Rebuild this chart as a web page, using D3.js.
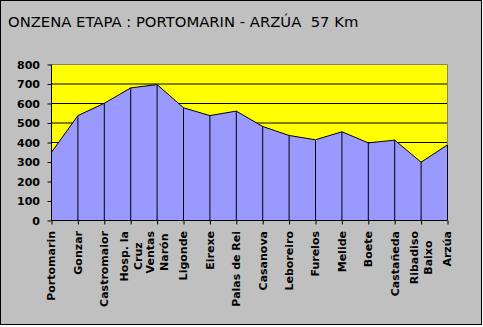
<!DOCTYPE html>
<html>
<head>
<meta charset="utf-8">
<script src="https://cdn.jsdelivr.net/npm/d3@7/dist/d3.min.js"></script>
<style>
  html, body { margin: 0; padding: 0; background: #ffffff; }
  svg { display: block; }
  text { font-family: "DejaVu Sans", Verdana, sans-serif; }
</style>
</head>
<body>
<svg id="chart" width="483" height="327"></svg>
<script>
// Stage profile: altitude (m) at each waypoint
const stages = ["Portomarin", "Gonzar", "Castromaior", "Hosp. la|Cruz", "Ventas|Narón",
  "Ligonde", "Eirexe", "Palas de Rei", "Casanova", "Leboreiro", "Furelos", "Melide",
  "Boete", "Castañeda", "Ribadiso|Baixo", "Arzúa"];
const altitudes = [350, 538, 601, 680, 697, 578, 538, 561, 482, 436, 414, 455, 398, 412, 299, 388];
const yTicks = [0, 100, 200, 300, 400, 500, 600, 700, 800];
const title = "ONZENA ETAPA : PORTOMARIN - ARZÚA  57 Km";

const svg = d3.select("#chart");

// Frame
svg.append("rect")
  .attr("x", 0.5).attr("y", 0.5).attr("width", 481).attr("height", 324)
  .attr("fill", "#c0c0c0").attr("stroke", "#000");

svg.append("text")
  .attr("x", 8).attr("y", 27)
  .style("white-space", "pre")
  .attr("font-size", "14.8px")
  .attr("fill", "#000")
  .text(title);

const x = d3.scalePoint().domain(stages).range([51.5, 447.5]);
const y = d3.scaleLinear().domain([0, 800]).range([220.5, 64.5]);

const plotLeft = x.range()[0], plotRight = x.range()[1];
const plotTop = y(800), plotBottom = y(0);

// Plot background
svg.append("rect")
  .attr("x", plotLeft).attr("y", plotTop)
  .attr("width", plotRight - plotLeft).attr("height", plotBottom - plotTop)
  .attr("fill", "#ffff00");

// Horizontal gridlines
svg.append("g").selectAll("line")
  .data(yTicks.filter(d => d > 0 && d < 800))
  .join("line")
  .attr("x1", plotLeft).attr("x2", plotRight)
  .attr("y1", d => y(d)).attr("y2", d => y(d))
  .attr("stroke", "#000").attr("stroke-width", 1);

const pts = stages.map((s, i) => ({ s, v: altitudes[i] }));

// Elevation area
svg.append("path")
  .datum(pts)
  .attr("d", d3.area().x(d => x(d.s)).y0(plotBottom).y1(d => y(d.v)))
  .attr("fill", "#9999ff");

svg.append("path")
  .datum(pts)
  .attr("d", d3.line().x(d => x(d.s)).y(d => y(d.v)))
  .attr("fill", "none").attr("stroke", "#000").attr("stroke-width", 1);

// Plot border (top and right)
svg.append("path")
  .attr("d", `M${plotLeft},${plotTop}H${plotRight}V${plotBottom}`)
  .attr("fill", "none").attr("stroke", "#808080");

// Drop lines
svg.append("g").selectAll("line")
  .data(pts)
  .join("line")
  .attr("x1", d => x(d.s)).attr("x2", d => x(d.s))
  .attr("y1", d => y(d.v)).attr("y2", plotBottom)
  .attr("stroke", "#000");

// Y axis
const yAxis = svg.append("g")
  .attr("transform", `translate(${plotLeft},0)`)
  .call(d3.axisLeft(y).tickValues(yTicks).tickSize(4).tickPadding(8));
yAxis.select(".domain").attr("stroke", "#000").attr("d", `M0,${plotTop}V${plotBottom}`);
yAxis.selectAll(".tick line").attr("stroke", "#000");
yAxis.selectAll("text")
  .attr("font-family", "DejaVu Sans, sans-serif")
  .attr("font-size", "11px").attr("font-weight", "bold").attr("fill", "#000")
  .attr("x", -11.5).attr("dy", "0.36em");

// X axis
const xAxis = svg.append("g")
  .attr("transform", `translate(0,${plotBottom})`)
  .call(d3.axisBottom(x).tickSize(4).tickFormat(""));
xAxis.select(".domain").attr("stroke", "#000").attr("d", `M${plotLeft},0H${plotRight}`);
xAxis.selectAll(".tick line").attr("stroke", "#000");
xAxis.selectAll(".tick text").remove();

// Rotated category labels, wrapped lines centred on each tick
const labelTop = 231;
const lineGap = 14;
const labels = svg.append("g");
stages.forEach(s => {
  const lines = s.split("|");
  const g = labels.append("g");
  const texts = lines.map(ln => g.append("text")
    .attr("font-size", "11px").attr("font-weight", "bold").attr("fill", "#000")
    .attr("text-anchor", "middle")
    .attr("dy", "0.36em")
    .text(ln));
  const maxLen = d3.max(texts, t => t.node().getComputedTextLength());
  const cy = labelTop + maxLen / 2;
  texts.forEach((t, i) => {
    const cx = x(s) + (i - (lines.length - 1) / 2) * lineGap;
    t.attr("transform", `translate(${cx},${cy}) rotate(-90)`);
  });
});
</script>
</body>
</html>
